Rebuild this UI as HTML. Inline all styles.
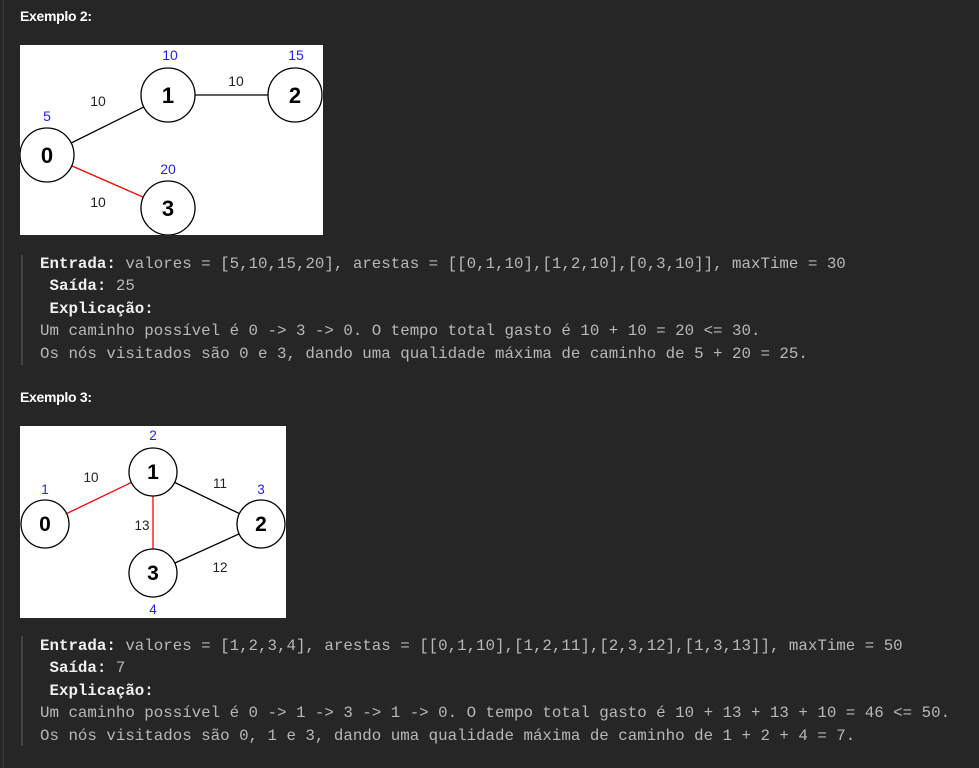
<!DOCTYPE html>
<html><head><meta charset="utf-8"><style>
html,body{margin:0;padding:0;background:#262626;width:979px;height:768px;overflow:hidden;position:relative}
.edge{position:absolute;left:3px;top:0;width:1px;height:768px;background:#3c3c3c}
.h{position:absolute;left:20px;font:bold 14px "Liberation Sans",sans-serif;color:#fff;letter-spacing:-0.3px}
svg{position:absolute}
.bq{position:absolute;left:21px;width:2px;background:#444}
.t{position:absolute;left:40px;font:15.8px/22.4px "Liberation Mono",monospace;color:#b8b8b8;white-space:pre}
.t b{color:#f0f0f0}
</style></head><body>
<div class="edge"></div>
<div class="h" style="top:8px">Exemplo 2:</div>
<svg style="left:20px;top:45px" width="303" height="190" viewBox="20 45 303 190" font-family="Liberation Sans,sans-serif">
<rect x="20" y="45" width="303" height="190" fill="#fff"/>
<line x1="47" y1="155" x2="168" y2="95" stroke="#000" stroke-width="1.3"/>
<line x1="168" y1="95" x2="295" y2="95" stroke="#000" stroke-width="1.3"/>
<line x1="47" y1="155" x2="168" y2="208" stroke="#f00" stroke-width="1.3"/>
<g fill="#fff" stroke="#000" stroke-width="1.3">
<circle cx="47" cy="155" r="27"/><circle cx="168" cy="95" r="27"/><circle cx="295" cy="95" r="27"/><circle cx="168" cy="208" r="27"/></g>
<g font-weight="bold" font-size="22" text-anchor="middle"><text x="47" y="163">0</text><text x="168" y="103">1</text><text x="295" y="103">2</text><text x="168" y="216">3</text></g>
<g fill="#2222ee" font-size="14" text-anchor="middle"><text x="47" y="121">5</text><text x="170" y="60">10</text><text x="296" y="60">15</text><text x="168" y="174">20</text></g>
<g fill="#222" font-size="14" text-anchor="middle"><text x="98" y="106">10</text><text x="236" y="86">10</text><text x="98" y="207">10</text></g>
</svg>
<div class="bq" style="top:255px;height:110px"></div>
<div class="t" style="top:253px"><b>Entrada:</b> valores = [5,10,15,20], arestas = [[0,1,10],[1,2,10],[0,3,10]], maxTime = 30
 <b>Saída:</b> 25
 <b>Explicação:</b>
Um caminho possível é 0 -&gt; 3 -&gt; 0. O tempo total gasto é 10 + 10 = 20 &lt;= 30.
Os nós visitados são 0 e 3, dando uma qualidade máxima de caminho de 5 + 20 = 25.</div>
<div class="h" style="top:389px">Exemplo 3:</div>
<svg style="left:20px;top:426px" width="266" height="192" viewBox="20 426 266 192" font-family="Liberation Sans,sans-serif">
<rect x="20" y="426" width="266" height="192" fill="#fff"/>
<line x1="45" y1="524" x2="153" y2="472" stroke="#f00" stroke-width="1.3"/>
<line x1="153" y1="472" x2="153" y2="573" stroke="#f00" stroke-width="1.3"/>
<line x1="153" y1="472" x2="261" y2="524" stroke="#000" stroke-width="1.3"/>
<line x1="153" y1="573" x2="261" y2="524" stroke="#000" stroke-width="1.3"/>
<g fill="#fff" stroke="#000" stroke-width="1.3">
<circle cx="45" cy="524" r="24"/><circle cx="153" cy="472" r="24"/><circle cx="261" cy="524" r="24"/><circle cx="153" cy="573" r="24"/></g>
<g font-weight="bold" font-size="21" text-anchor="middle"><text x="45" y="531">0</text><text x="153" y="479">1</text><text x="261" y="531">2</text><text x="153" y="580">3</text></g>
<g fill="#2222ee" font-size="13.5" text-anchor="middle"><text x="45" y="494">1</text><text x="153" y="440">2</text><text x="261" y="494">3</text><text x="153" y="614">4</text></g>
<g fill="#222" font-size="13.5" text-anchor="middle"><text x="91" y="482">10</text><text x="220" y="488">11</text><text x="142" y="530">13</text><text x="220" y="572">12</text></g>
</svg>
<div class="bq" style="top:636px;height:110px"></div>
<div class="t" style="top:635px"><b>Entrada:</b> valores = [1,2,3,4], arestas = [[0,1,10],[1,2,11],[2,3,12],[1,3,13]], maxTime = 50
 <b>Saída:</b> 7
 <b>Explicação:</b>
Um caminho possível é 0 -&gt; 1 -&gt; 3 -&gt; 1 -&gt; 0. O tempo total gasto é 10 + 13 + 13 + 10 = 46 &lt;= 50.
Os nós visitados são 0, 1 e 3, dando uma qualidade máxima de caminho de 1 + 2 + 4 = 7.</div>
</body></html>
